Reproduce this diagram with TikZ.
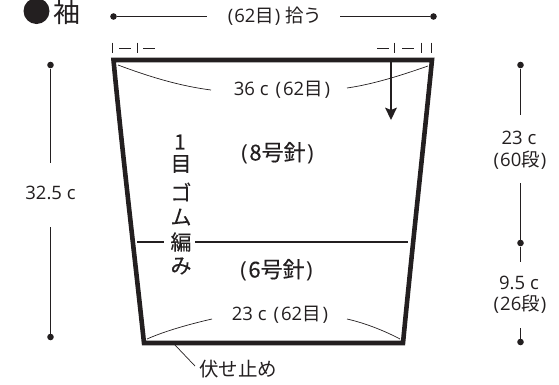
\documentclass[tikz,border=0pt]{standalone}
\usepackage{fontspec}
\setmainfont{Open Sans}
\newfontfamily\cjk{Noto Sans CJK JP}
\newfontfamily\cjkm[FakeBold=0.25]{Noto Sans CJK JP}
\definecolor{ink}{HTML}{231F20}
\tikzset{
 thickline/.style={draw=ink,line width=4.6pt,line join=miter},
 thinline/.style={draw=ink,line width=0.9pt},
 hair/.style={draw=ink,line width=0.7pt},
 midline/.style={draw=ink,line width=2pt},
 dotn/.style={circle,fill=ink,inner sep=0pt,minimum size=6.6pt},
 lab/.style={text=ink,font=\fontsize{18.5}{20}\selectfont,inner sep=0pt,anchor=center},
 blab/.style={text=ink,font=\fontsize{22}{24}\selectfont,inner sep=0pt,anchor=center},
 vlab/.style={text=ink,font=\fontsize{21}{22}\cjkm,inner sep=0pt,anchor=center},
}
\begin{document}
\begin{tikzpicture}[x=1pt,y=-1pt]
\useasboundingbox (0,0) rectangle (559,384);
% garment outline
\coordinate (tl) at (113.5,60);
\coordinate (tr) at (432,60);
\coordinate (bl) at (144,343);
\coordinate (br) at (403,343);
\draw[thickline] (bl) .. controls (134,250) and (122,150) .. (tl) -- (tr) .. controls (423,150) and (412,250) .. (br) -- cycle;
% title
\node[dotn,minimum size=26pt] (bullet) at (36.5,11) {};
\node[text=ink,font=\fontsize{27}{28}\cjk,inner sep=0pt] (title) at (66.5,12) {袖};
% top dimension
\node[dotn] (topl) at (113.5,16.5) {};
\node[dotn] (topr) at (433.5,16.5) {};
\node[lab] (toptxt) at (275,16) {(\kern1pt 62{\cjk 目}\kern1pt) {\cjk 拾う}};
\coordinate (t1) at (207,16.5);
\coordinate (t2) at (340,16.5);
\draw[thinline] (topl) -- (t1);
\draw[thinline] (t2) -- (topr);
% tick marks
\foreach \x in {112,137,394,421,431}
  \draw[thinline] (\x,42.5) -- (\x,53);
\foreach \a/\b in {119/131,143/155,377/389,402/414}
  \draw[thinline] (\a,48) -- (\b,48);
% left dimension
\node[dotn] (ld1) at (50.5,65) {};
\node[dotn] (ld2) at (50.5,337) {};
\node[lab] (ldt) at (50.5,193) {32.5 c};
\coordinate (ld1e) at (50.5,163);
\coordinate (ld2e) at (50.5,227);
\draw[thinline] (ld1) -- (ld1e);
\draw[thinline] (ld2e) -- (ld2);
% right dimension
\node[dotn] (rd1) at (520.5,65) {};
\node[dotn] (rd2) at (520.5,243) {};
\node[dotn] (rd3) at (520.5,342) {};
\node[lab] (r23) at (519,138) {23 c};
\node[lab] (r60) at (520,160) {(\kern1pt 60{\cjk 段}\kern1pt)};
\node[lab] (r95) at (519,283) {9.5 c};
\node[lab] (r26) at (520,304) {(\kern1pt 26{\cjk 段}\kern1pt)};
\coordinate (ra) at (520.5,115);
\coordinate (rb) at (520.5,183);
\coordinate (rc) at (520.5,262);
\coordinate (rd) at (520.5,328);
\draw[thinline] (rd1) -- (ra);
\draw[thinline] (rb) -- (rd2) -- (rc);
\draw[thinline] (rd) -- (rd3);
% width labels with curves
\node[lab] (w36) at (282,90) {36 c\kern7pt(\kern2pt 62{\cjk 目}\kern2pt)};
\coordinate (ca) at (211,90);
\coordinate (cb) at (347,88);
\draw[hair] (118,65) .. controls (150,77) and (180,86) .. (ca);
\draw[hair] (cb) .. controls (375,84) and (405,74) .. (428,66);
\node[lab] (w23) at (280,315) {23 c\kern7pt(\kern2pt 62{\cjk 目}\kern2pt)};
\coordinate (cc) at (212,319);
\coordinate (cd) at (347,319);
\draw[hair] (147,339) .. controls (165,331) and (190,324) .. (cc);
\draw[hair] (cd) .. controls (365,323) and (385,331) .. (400,339);
% needle labels
\node[blab] (n8) at (277.5,153) {(\kern1.5pt{\cjkm 8号針}\kern1.5pt)};
\node[blab] (n6) at (276.5,270) {(\kern1.5pt{\cjkm 6号針}\kern1.5pt)};
% rib
\node[vlab] at (180,142) {1};
\node[vlab] at (181,164) {目};
\node[vlab] at (181,192) {ゴ};
\node[vlab] at (181,217) {ム};
\node[vlab] at (181,242) {編};
\node[vlab] at (181,266) {み};
% mid line
\coordinate (m1) at (137,242);
\coordinate (m2) at (164,242);
\coordinate (m3) at (195,242);
\coordinate (m4) at (408,242);
\draw[midline] (m1) -- (m2);
\draw[midline] (m3) -- (m4);
% direction arrow
\coordinate (a1) at (391,62);
\coordinate (a2) at (391,120);
\draw[draw=ink,line width=1.9pt] (a1) -- (391,112);
\fill[ink] (a2) -- (385,107.5) -- (391,110) -- (397,107.5) -- cycle;
% bind off
\node[lab,anchor=west,font=\fontsize{19.5}{20}\cjk] (fuse) at (199,369) {伏せ止め};
\coordinate (f1) at (175,345);
\coordinate (f2) at (195,366);
\draw[hair] (f1) -- (f2);
\end{tikzpicture}
\end{document}
